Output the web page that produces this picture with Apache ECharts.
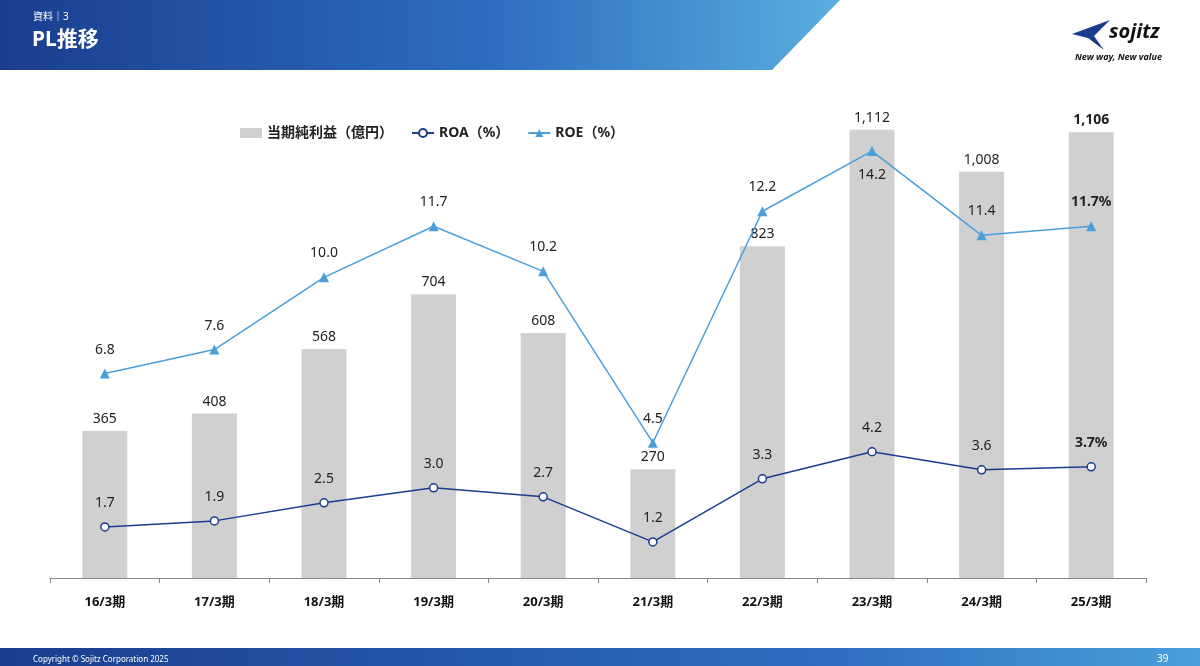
<!DOCTYPE html>
<html>
<head>
<meta charset="UTF-8">
<title>PL推移</title>
<script src="https://cdn.jsdelivr.net/npm/echarts@6/dist/echarts.min.js"></script>
<style>body{margin:0;background:#fff}#c{width:1200px;height:666px}</style>
</head>
<body>
<div id="c"></div>
<script>
var categories = ['16/3期','17/3期','18/3期','19/3期','20/3期','21/3期','22/3期','23/3期','24/3期','25/3期'];
var netIncome = [365, 408, 568, 704, 608, 270, 823, 1112, 1008, 1106];
var roa = [1.7, 1.9, 2.5, 3.0, 2.7, 1.2, 3.3, 4.2, 3.6, 3.7];
var roe = [6.8, 7.6, 10.0, 11.7, 10.2, 4.5, 12.2, 14.2, 11.4, 11.7];

var chart = echarts.init(document.getElementById('c'));
var font = '"Noto Sans", "Noto Sans CJK JP", sans-serif';
var last = categories.length - 1;

function lbl(arr, pos) {
    return arr.map(function (v, i) {
        var o = {value: v};
        if (i === last) o.label = {fontWeight: 'bold'};
        if (pos && pos[i]) o.label = Object.assign(o.label || {}, {position: pos[i]});
        return o;
    });
}

var option = {
    animation: false,
    textStyle: {fontFamily: font},
    graphic: [
        {type: 'polygon', shape: {points: [[0,0],[840,0],[772,70],[0,70]]},
         style: {fill: new echarts.graphic.LinearGradient(0,0,1,0,[{offset:0,color:'#1a3d8f'},{offset:0.6,color:'#2e6fbf'},{offset:1,color:'#5aaee0'}])}},
        {type: 'text', left: 33, top: 12, style: {text: '資料｜3', fill: '#fff', fontSize: 10, fontFamily: font}},
        {type: 'text', left: 32, top: 30, style: {text: 'PL推移', fill: '#fff', fontSize: 21, fontWeight: 'bold', fontFamily: font}},
        {type: 'text', left: 1109, top: 22, style: {text: 'sojitz', fill: '#111', fontSize: 20, fontWeight: 'bold', fontStyle: 'italic', fontFamily: font}},
        {type: 'text', left: 1075, top: 53, style: {text: 'New way, New value', fill: '#111', fontSize: 9, fontStyle: 'italic', fontWeight: 'bold', fontFamily: font}},
        {type: 'polygon', shape: {points: [[1072,34],[1110,20],[1094,36],[1104,50],[1088,38]]}, style: {fill: '#1a3d8f'}},
        {type: 'rect', shape: {x: 0, y: 648, width: 1200, height: 18},
         style: {fill: new echarts.graphic.LinearGradient(0,0,1,0,[{offset:0,color:'#1a3d8f'},{offset:0.7,color:'#2e6fbf'},{offset:1,color:'#4a9fdb'}])}},
        {type: 'text', left: 33, top: 656, style: {text: 'Copyright © Sojitz Corporation 2025', fill: '#fff', fontSize: 8, fontFamily: font}},
        {type: 'text', left: 1157, top: 654, style: {text: '39', fill: '#fff', fontSize: 10, fontFamily: font}}
    ],
    legend: {
        top: 121, left: 235, itemGap: 18, itemWidth: 22, itemHeight: 10,
        textStyle: {fontSize: 14, fontWeight: 'bold', color: '#222', fontFamily: font},
        data: [
            {name: '当期純利益（億円）', icon: 'rect'},
            {name: 'ROA（%）'},
            {name: 'ROE（%）'}
        ]
    },
    grid: {left: 50, right: 54, top: 100, bottom: 88},
    xAxis: {
        type: 'category', data: categories,
        axisLine: {lineStyle: {color: '#888'}},
        axisTick: {show: true, lineStyle: {color: '#888'}},
        axisLabel: {color: '#111', fontSize: 13, fontWeight: 'bold', margin: 18}
    },
    yAxis: [
        {type: 'value', min: 0, max: 1186, show: false, splitLine: {show: false}},
        {type: 'value', min: 0, max: 15.9, show: false, splitLine: {show: false}}
    ],
    series: [
        {name: '当期純利益（億円）', type: 'bar', barWidth: 45, data: lbl(netIncome),
         itemStyle: {color: '#d0d0d0'},
         label: {show: true, position: 'top', color: '#222', fontSize: 14,
                 formatter: function (p) { return p.value.toLocaleString('en-US'); }}},
        {name: 'ROA（%）', type: 'line', yAxisIndex: 1, data: lbl(roa),
         symbol: 'circle', symbolSize: 8, lineStyle: {color: '#1a3d8f', width: 1.5},
         itemStyle: {color: '#fff', borderColor: '#1a3d8f', borderWidth: 1.5},
         label: {show: true, position: 'top', distance: 12, color: '#222', fontSize: 14,
                 formatter: function (p) { return p.dataIndex === last ? p.value.toFixed(1) + '%' : p.value.toFixed(1); }}},
        {name: 'ROE（%）', type: 'line', yAxisIndex: 1, data: lbl(roe, {7: 'bottom'}),
         symbol: 'triangle', symbolSize: 10, lineStyle: {color: '#4a9fdb', width: 1.5},
         itemStyle: {color: '#4a9fdb'},
         label: {show: true, position: 'top', distance: 12, color: '#222', fontSize: 14,
                 formatter: function (p) { return p.dataIndex === last ? p.value.toFixed(1) + '%' : p.value.toFixed(1); }}}
    ]
};
chart.setOption(option);
</script>
</body>
</html>
